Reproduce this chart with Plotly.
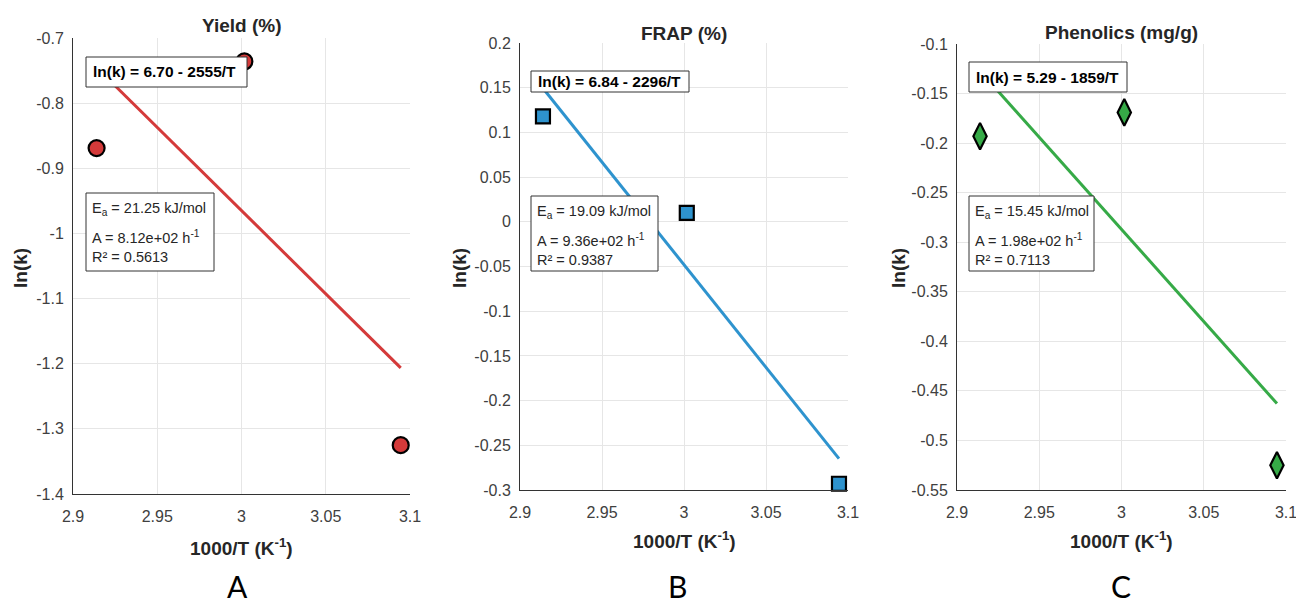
import plotly.graph_objects as go

W, H = 1296, 604

# ---- data ----
inv_T = [2.914, 3.0017, 3.0945]            # 1000/T (K^-1)
yield_lnk = [-0.869, -0.736, -1.325]
frap_lnk = [0.118, 0.010, -0.293]
phen_lnk = [-0.193, -0.169, -0.525]

panel_titles = ["Yield (%)", "FRAP (%)", "Phenolics (mg/g)"]
panel_letters = ["A", "B", "C"]
fit_intercept = [6.70, 6.84, 5.29]
fit_slope = [2555, 2296, 1859]          # ln(k) = a - b/T
Ea_vals = ["21.25", "19.09", "15.45"]
A_vals = ["8.12e+02", "9.36e+02", "1.98e+02"]
R2_vals = ["0.5613", "0.9387", "0.7113"]

x_ticks = [2.9, 2.95, 3.0, 3.05, 3.1]
x_ticktext = ["2.9", "2.95", "3", "3.05", "3.1"]
yA_ticks = [-0.7, -0.8, -0.9, -1.0, -1.1, -1.2, -1.3, -1.4]
yA_text = ["-0.7", "-0.8", "-0.9", "-1", "-1.1", "-1.2", "-1.3", "-1.4"]
yB_ticks = [0.2, 0.15, 0.1, 0.05, 0, -0.05, -0.1, -0.15, -0.2, -0.25, -0.3]
yB_text = ["0.2", "0.15", "0.1", "0.05", "0", "-0.05", "-0.1", "-0.15", "-0.2", "-0.25", "-0.3"]
yC_ticks = [-0.1, -0.15, -0.2, -0.25, -0.3, -0.35, -0.4, -0.45, -0.5, -0.55]
yC_text = ["-0.1", "-0.15", "-0.2", "-0.25", "-0.3", "-0.35", "-0.4", "-0.45", "-0.5", "-0.55"]

series = [yield_lnk, frap_lnk, phen_lnk]
y_ticks = [yA_ticks, yB_ticks, yC_ticks]
y_text = [yA_text, yB_text, yC_text]
y_ranges = [[-1.4, -0.7], [-0.3, 0.2], [-0.55, -0.1]]

# ---- styles ----
colors = ["#D43A3A", "#2E93CE", "#36AA47"]
symbols = ["circle", "square", "diamond-tall"]
msizes = [16, 14, 19]
# plot area pixel boxes: left, right, top, bottom
boxes = [(73, 410, 38, 494), (520, 848, 43, 490), (957, 1286, 44, 490)]
eq_boxes = [(86, 247, 57, 87), (531, 689, 71, 92), (969, 1127, 62, 92)]
info_boxes = [(86, 214, 193, 271), (531, 658, 196, 271), (969, 1094, 196, 271)]
title_y = [25, 33, 32]
xtitle_y = [547, 540, 540]
ytitle_x = [20, 459, 898]
letter_x = [237, 677, 1121]
FONT = "Liberation Sans, Arial, sans-serif"
TICKC = "#404040"
TEXTC = "#262626"


def px(x):
    return x / W


def py(y):
    return 1 - y / H


fig = go.Figure()
annotations = []
shapes = []
layout = dict(
    width=W, height=H, margin=dict(l=0, r=0, t=0, b=0, autoexpand=False),
    paper_bgcolor="white", plot_bgcolor="white", showlegend=False,
    font=dict(family=FONT, color=TICKC),
)

for i in range(3):
    s = "" if i == 0 else str(i + 1)
    xa, ya = "x" + s, "y" + s
    L, R, T, B = boxes[i]
    b_coef = fit_slope[i] / 1000.0
    line_x = [min(inv_T), max(inv_T)]
    line_y = [fit_intercept[i] - b_coef * v for v in line_x]
    fig.add_trace(go.Scatter(x=line_x, y=line_y, mode="lines",
                             line=dict(color=colors[i], width=3),
                             xaxis=xa, yaxis=ya, hoverinfo="skip"))
    fig.add_trace(go.Scatter(x=inv_T, y=series[i], mode="markers",
                             marker=dict(symbol=symbols[i], size=msizes[i], color=colors[i],
                                         line=dict(color="black", width=2.2)),
                             xaxis=xa, yaxis=ya, cliponaxis=False))
    layout["xaxis" + s] = dict(
        domain=[px(L), px(R)], anchor=ya, range=[2.9, 3.1], automargin=False,
        tickvals=x_ticks, ticktext=x_ticktext, tickfont=dict(size=16, color=TICKC),
        ticklabeloverflow="allow",
        showgrid=True, gridcolor="#E6E6E6", gridwidth=1, zeroline=False,
        showline=True, linecolor="#333333", linewidth=1, mirror=False,
        ticks="", ticklabelstandoff=8,
    )
    layout["yaxis" + s] = dict(
        domain=[py(B), py(T)], anchor=xa, range=y_ranges[i], automargin=False,
        tickvals=y_ticks[i], ticktext=y_text[i], tickfont=dict(size=16, color=TICKC),
        ticklabeloverflow="allow",
        showgrid=True, gridcolor="#E6E6E6", gridwidth=1, zeroline=False,
        showline=True, linecolor="#333333", linewidth=1, mirror=False,
        ticks="", ticklabelstandoff=5,
    )
    cx = (L + R) / 2
    annotations.append(dict(x=px(cx), y=py(title_y[i]), xref="paper", yref="paper",
                            text="<b>" + panel_titles[i] + "</b>", showarrow=False,
                            xanchor="center", yanchor="middle",
                            font=dict(size=19, color=TEXTC, family=FONT)))
    annotations.append(dict(x=px(cx), y=py(xtitle_y[i]), xref="paper", yref="paper",
                            text="<b>1000/T (K<sup>-1</sup>)</b>", showarrow=False,
                            xanchor="center", yanchor="middle",
                            font=dict(size=19, color=TEXTC, family=FONT)))
    annotations.append(dict(x=px(ytitle_x[i]), y=py(268), xref="paper", yref="paper",
                            text="<b>ln(k)</b>", showarrow=False, textangle=-90,
                            xanchor="center", yanchor="middle",
                            font=dict(size=19, color=TEXTC, family=FONT)))
    annotations.append(dict(x=px(letter_x[i]), y=py(586), xref="paper", yref="paper",
                            text=panel_letters[i], showarrow=False,
                            xanchor="center", yanchor="middle",
                            font=dict(size=30, color="black", family="Lato, Carlito, sans-serif")))
    eL, eR, eT, eB = eq_boxes[i]
    shapes.append(dict(type="rect", xref="paper", yref="paper",
                       x0=px(eL), x1=px(eR), y0=py(eB), y1=py(eT),
                       line=dict(color="#333333", width=1), fillcolor="white", layer="above"))
    annotations.append(dict(x=px(eL + 5), y=py((eT + eB) / 2), xref="paper", yref="paper",
                            text="<b>ln(k) = %.2f - %d/T</b>" % (fit_intercept[i], fit_slope[i]),
                            showarrow=False, xanchor="left", yanchor="middle",
                            font=dict(size=15.5, color="black", family=FONT)))
    iL, iR, iT, iB = info_boxes[i]
    shapes.append(dict(type="rect", xref="paper", yref="paper",
                       x0=px(iL), x1=px(iR), y0=py(iB), y1=py(iT),
                       line=dict(color="#333333", width=1), fillcolor="white", layer="above"))
    lines = ["E<sub>a</sub> = %s kJ/mol" % Ea_vals[i],
             "A = %s h<sup>-1</sup>" % A_vals[i],
             "R² = %s" % R2_vals[i]]
    offs = [iT + 16, iT + 44, iT + 64]
    for t, yy in zip(lines, offs):
        annotations.append(dict(x=px(iL + 4), y=py(yy), xref="paper", yref="paper",
                                text=t, showarrow=False, xanchor="left", yanchor="middle",
                                font=dict(size=14.5, color=TEXTC, family=FONT)))

layout["annotations"] = annotations
layout["shapes"] = shapes
fig.update_layout(**layout)
fig.write_html("out.html")
